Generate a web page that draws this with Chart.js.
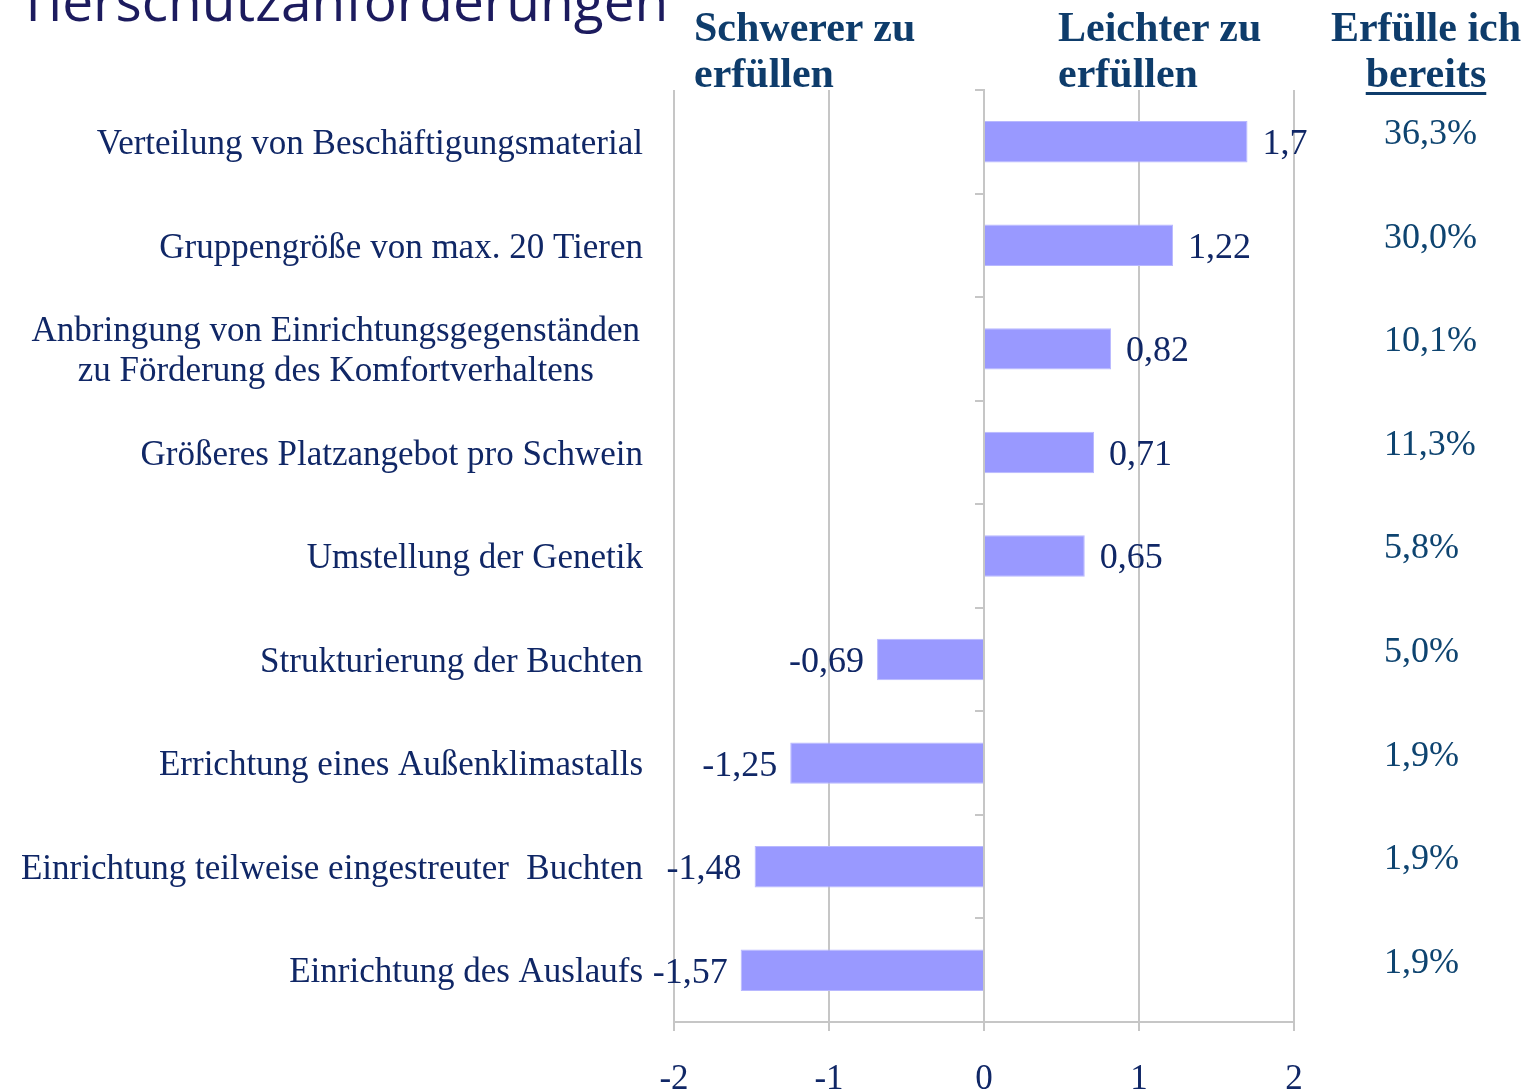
<!DOCTYPE html>
<html lang="de">
<head>
<meta charset="utf-8">
<title>Tierschutzanforderungen</title>
<script src="https://cdn.jsdelivr.net/npm/chart.js@4.4.1/dist/chart.umd.min.js"></script>
<style>
  html, body { margin: 0; padding: 0; background: #fff; }
  #wrap { position: relative; width: 1528px; height: 1092px; overflow: hidden; }
  #wrap canvas { position: absolute; left: 0; top: 0; }
  .title {
    position: absolute; left: 18px; top: -28px;
    font-family: 'Open Sans', sans-serif; font-size: 55px; line-height: 55px;
    color: #1c1b5e; white-space: nowrap;
  }
  .head {
    position: absolute; top: 4px;
    font-family: 'Liberation Serif', serif; font-weight: bold;
    font-size: 42px; line-height: 46px; color: #0e3c6b; white-space: nowrap;
  }
  .head u { text-decoration-thickness: 3px; text-underline-offset: 5px; }
</style>
</head>
<body>
<div id="wrap">
  <canvas id="chart" width="1528" height="1092"></canvas>
  <div class="title">Tierschutzanforderungen</div>
  <div class="head" style="left:694px;">Schwerer zu<br>erfüllen</div>
  <div class="head" style="left:1058px;">Leichter zu<br>erfüllen</div>
  <div class="head" style="left:1326px;width:200px;text-align:center;">Erfülle ich<br><u>bereits</u></div>
</div>
<script>
// ---- Daten ----
const categories = [
  'Verteilung von Beschäftigungsmaterial',
  'Gruppengröße von max. 20 Tieren',
  ['Anbringung von Einrichtungsgegenständen', 'zu Förderung des Komfortverhaltens'],
  'Größeres Platzangebot pro Schwein',
  'Umstellung der Genetik',
  'Strukturierung der Buchten',
  'Errichtung eines Außenklimastalls',
  'Einrichtung teilweise eingestreuter  Buchten',
  'Einrichtung des Auslaufs'
];
const scores = [1.7, 1.22, 0.82, 0.71, 0.65, -0.69, -1.25, -1.48, -1.57];
const fulfilled = ['36,3%', '30,0%', '10,1%', '11,3%', '5,8%', '5,0%', '1,9%', '1,9%', '1,9%'];
const xTicks = [-2, -1, 0, 1, 2];

const navy = '#102766';
const gridGray = '#c6c6c6';
const serif = "'Liberation Serif', 'Times New Roman', serif";

// Kategorie-Beschriftungen links (mehrzeilig zentriert)
const categoryLabels = {
  id: 'categoryLabels',
  afterDraw(chart) {
    const ctx = chart.ctx;
    const y = chart.scales.y;
    ctx.save();
    ctx.font = '35px ' + serif;
    ctx.fillStyle = navy;
    ctx.textBaseline = 'middle';
    categories.forEach((lab, i) => {
      const cy = y.getPixelForValue(i) + 3;
      if (Array.isArray(lab)) {
        const w = Math.max(...lab.map(l => ctx.measureText(l).width));
        const cx = 640 - w / 2;
        ctx.textAlign = 'center';
        lab.forEach((l, j) => ctx.fillText(l, cx, cy + (j - (lab.length - 1) / 2) * 40));
      } else {
        ctx.textAlign = 'right';
        ctx.fillText(lab, 643, cy);
      }
    });
    ctx.restore();
  }
};

// Werte an den Balken + Spalte "Erfülle ich bereits"
const valueLabels = {
  id: 'valueLabels',
  afterDatasetsDraw(chart) {
    const ctx = chart.ctx;
    const meta = chart.getDatasetMeta(0);
    ctx.save();
    ctx.font = '36px ' + serif;
    ctx.textBaseline = 'middle';
    meta.data.forEach((bar, i) => {
      const v = scores[i];
      const txt = String(v).replace('.', ',');
      ctx.fillStyle = navy;
      if (v >= 0) {
        ctx.textAlign = 'left';
        ctx.fillText(txt, bar.x + 15, bar.y + 3);
      } else {
        ctx.textAlign = 'right';
        ctx.fillText(txt, bar.x - 13, bar.y + 3);
      }
      ctx.fillStyle = '#0e4470';
      ctx.textAlign = 'left';
      ctx.fillText(fulfilled[i], 1384, bar.y - 7);
    });
    ctx.restore();
  }
};

new Chart(document.getElementById('chart'), {
  type: 'bar',
  data: {
    labels: categories,
    datasets: [{
      data: scores,
      backgroundColor: '#9999ff',
      borderColor: '#b8b8ff',
      borderWidth: 1,
      barPercentage: 0.4,
      categoryPercentage: 1.0
    }]
  },
  options: {
    indexAxis: 'y',
    responsive: false,
    animation: false,
    layout: { padding: { top: 90, right: 234, bottom: 0, left: 0 } },
    plugins: {
      legend: { display: false },
      tooltip: { enabled: false }
    },
    scales: {
      x: {
        min: xTicks[0],
        max: xTicks[xTicks.length - 1],
        afterBuildTicks: scale => { scale.ticks = xTicks.map(v => ({ value: v })); },
        afterFit: scale => { scale.height = 70; },
        grid: { color: gridGray, lineWidth: 2, tickLength: 9 },
        border: { display: true, color: gridGray, width: 2 },
        ticks: {
          color: navy,
          padding: 28,
          font: { family: serif, size: 35 }
        }
      },
      y: {
        afterFit: scale => { scale.width = 674; },
        grid: { display: false },
        border: { display: false },
        ticks: { display: false }
      },
      yZero: {
        type: 'category',
        axis: 'y',
        position: { x: 0 },
        offset: true,
        grid: { offset: true, drawOnChartArea: false, color: gridGray, lineWidth: 2, tickLength: 8 },
        border: { display: true, color: gridGray, width: 2 },
        ticks: { display: false }
      }
    }
  },
  plugins: [categoryLabels, valueLabels]
});
</script>
</body>
</html>
